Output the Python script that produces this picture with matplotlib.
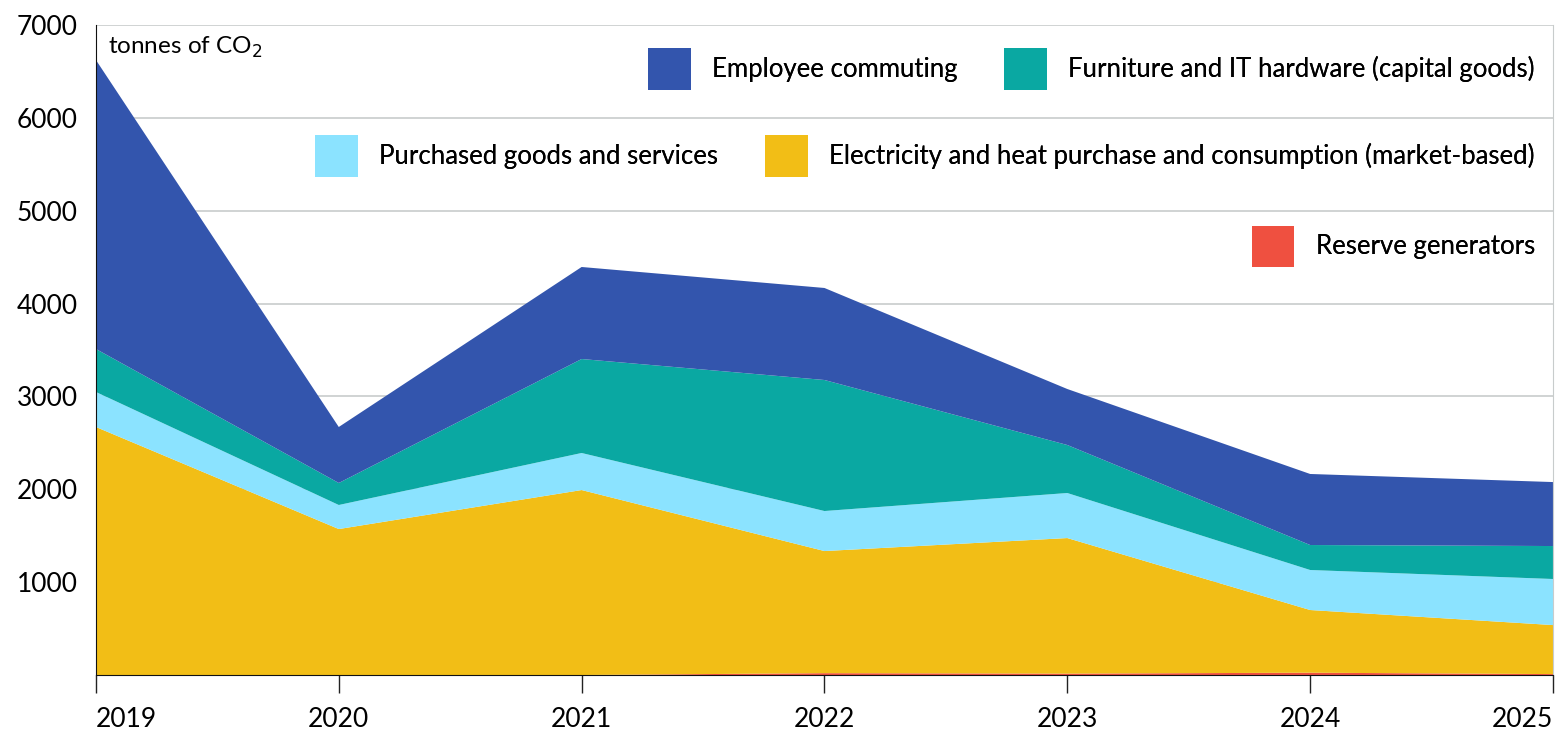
import matplotlib.pyplot as plt
from matplotlib.patches import Patch
import numpy as np

plt.rcParams['font.family'] = ['Lato', 'DejaVu Sans']

years = [2019, 2020, 2021, 2022, 2023, 2024, 2025]
reserve = [0, 0, 0, 20, 15, 25, 10]
electricity = [2671, 1572, 1992, 1315, 1460, 675, 528]
purchased = [377, 259, 399, 431, 485, 431, 496]
furniture = [463, 237, 1012, 1411, 517, 269, 355]
commuting = [3112, 603, 991, 991, 603, 765, 689]

labels = ['Reserve generators',
          'Electricity and heat purchase and consumption (market-based)',
          'Purchased goods and services',
          'Furniture and IT hardware (capital goods)',
          'Employee commuting']
colors = ['#EF5040', '#F2BE16', '#8BE3FF', '#0AA8A2', '#3355AD']

fig = plt.figure(figsize=(15.55, 7.33), dpi=100)
ax = fig.add_axes([0.0617, 0.0791, 0.937, 0.8868])

ax.stackplot(years, reserve, electricity, purchased, furniture, commuting,
             colors=colors, linewidth=0, zorder=2)

ax.set_xlim(2019, 2025)
ax.set_ylim(0, 7000)
ax.set_yticks(np.arange(1000, 7001, 1000))
ax.grid(axis='y', color='#c8cccc', linewidth=1.2, zorder=0)
ax.set_xticks(years)
ax.set_xticklabels([str(y) for y in years])
xl = ax.get_xticklabels()
xl[0].set_ha('left')
xl[-1].set_ha('right')
ax.tick_params(axis='x', length=13, width=1, pad=10, labelsize=19, color='#222222')
ax.tick_params(axis='y', length=0, pad=13, labelsize=19)
ax.spines['top'].set_visible(False)
ax.spines['right'].set_color('#c8cccc')
ax.spines['left'].set_color('#111111')
ax.spines['bottom'].set_color('#111111')

ax.text(0.008, 0.985, 'tonnes of CO$_2$', transform=ax.transAxes,
        fontsize=17.5, va='top', ha='left')

# legend laid out as three right-aligned rows
handles = {lab: Patch(facecolor=c, edgecolor='none') for lab, c in zip(labels, colors)}
rows = [
    (['Employee commuting', 'Furniture and IT hardware (capital goods)'], 0.906),
    (['Purchased goods and services',
      'Electricity and heat purchase and consumption (market-based)'], 0.787),
    (['Reserve generators'], 0.664),
]
for names, yc in rows:
    leg = fig.legend([handles[n] for n in names], names, loc='center right',
                     bbox_to_anchor=(0.987, yc), ncol=len(names), frameon=False,
                     fontsize=18.5, handlelength=1.67, handleheight=2.1,
                     handletextpad=0.82, columnspacing=1.83, borderpad=0,
                     borderaxespad=0)
    fig.add_artist(leg)

fig.savefig('out.png', dpi=100)
